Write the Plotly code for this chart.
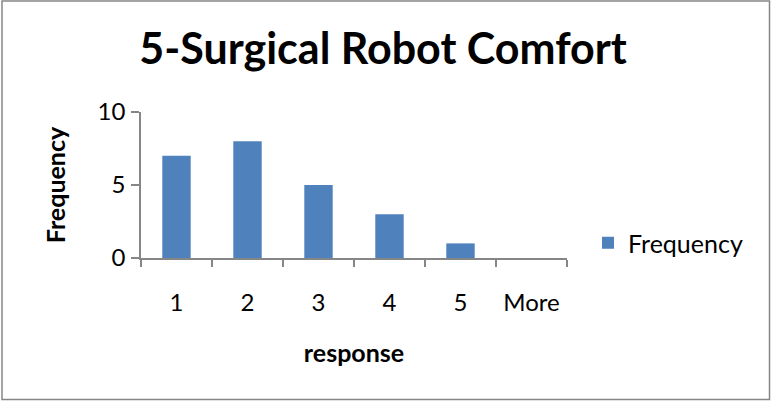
import plotly.graph_objects as go

# Histogram bins and counts
categories = ["1", "2", "3", "4", "5", "More"]
frequency = [7, 8, 5, 3, 1, 0]

FONT = "Lato, 'Open Sans', sans-serif"
AXIS_GREY = "#868686"
BAR_BLUE = "#4F81BD"

W, H = 771, 402
L, R, T, B = 141, 204, 112, 144
pw, ph = W - L - R, H - T - B


def px_x(x):
    return (x - L) / pw


def px_y(y):
    return (H - B - y) / ph


fig = go.Figure(
    go.Bar(
        x=categories,
        y=frequency,
        name="Frequency",
        marker=dict(color=BAR_BLUE, line=dict(width=0)),
        showlegend=True,
    )
)

fig.update_layout(
    width=W,
    height=H,
    margin=dict(l=L, r=R, t=T, b=B, pad=0),
    paper_bgcolor="white",
    plot_bgcolor="white",
    bargap=0.6,
    font=dict(family=FONT, color="black", size=24),
    title=dict(
        text="<b>5-Surgical Robot Comfort</b>",
        x=383 / W,
        xref="container",
        y=1 - 49 / H,
        yref="container",
        xanchor="center",
        yanchor="middle",
        font=dict(family=FONT, size=43, color="black"),
    ),
    showlegend=True,
    legend=dict(
        x=px_x(588),
        y=px_y(243),
        xanchor="left",
        yanchor="middle",
        font=dict(family=FONT, size=25, color="black"),
        bgcolor="rgba(0,0,0,0)",
        itemwidth=30,
    ),
    xaxis=dict(
        type="category",
        showline=True,
        linecolor=AXIS_GREY,
        linewidth=1.5,
        ticks="outside",
        tickson="boundaries",
        ticklen=7,
        tickcolor=AXIS_GREY,
        tickwidth=1.5,
        ticklabelstandoff=22,
        showgrid=False,
        tickfont=dict(family=FONT, size=24, color="black"),
        title=dict(
            text="<b>response</b>",
            font=dict(family=FONT, size=25, color="black"),
            standoff=30,
        ),
    ),
    yaxis=dict(
        range=[0, 10],
        tickvals=[0, 5, 10],
        showline=True,
        linecolor=AXIS_GREY,
        linewidth=1.5,
        ticks="outside",
        ticklen=8,
        tickcolor=AXIS_GREY,
        tickwidth=1.5,
        ticklabelstandoff=1,
        showgrid=False,
        zeroline=False,
        tickfont=dict(family=FONT, size=24, color="black"),
        title=dict(
            text="<b>Frequency</b>",
            font=dict(family=FONT, size=25, color="black"),
            standoff=25,
        ),
    ),
    shapes=[
        dict(
            type="rect",
            xref="paper",
            yref="paper",
            x0=px_x(2),
            x1=px_x(769.5),
            y0=px_y(1),
            y1=px_y(399.5),
            line=dict(color=AXIS_GREY, width=1.5),
            fillcolor="rgba(0,0,0,0)",
            layer="below",
        )
    ],
)

fig.write_html("out.html")
